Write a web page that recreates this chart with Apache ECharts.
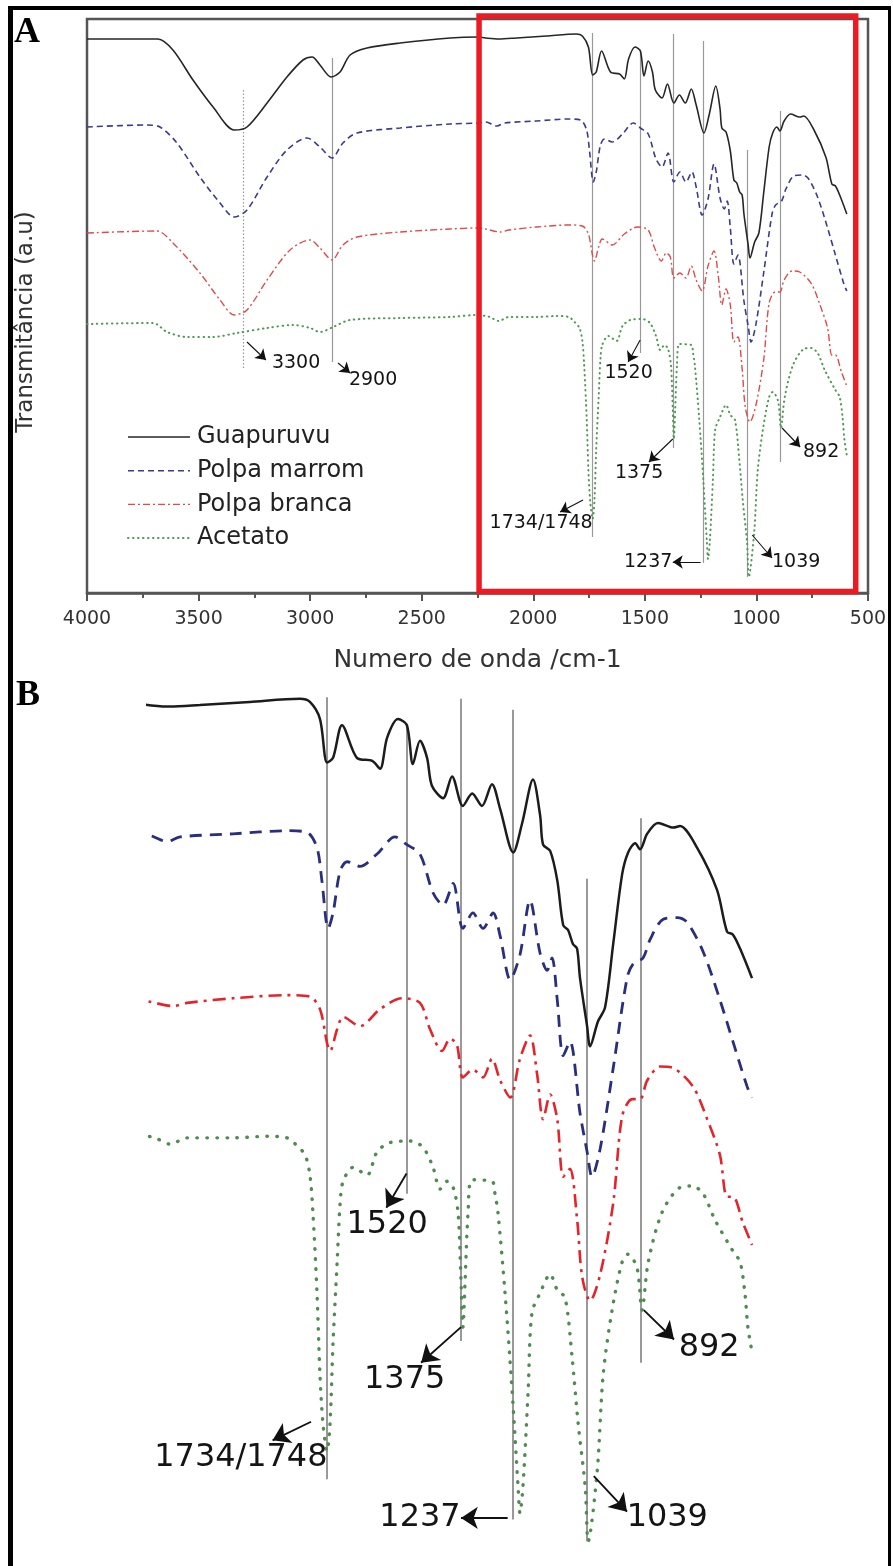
<!DOCTYPE html>
<html>
<head>
<meta charset="utf-8">
<title>FTIR - Guapuruvu, polpas e acetato</title>
<script src="https://cdn.jsdelivr.net/npm/echarts@6/dist/echarts.min.js"></script>
<style>
  html, body { margin: 0; padding: 0; background: #fff; }
  #chart { width: 893px; height: 1566px; }
</style>
</head>
<body>
<div id="chart"></div>
<script>
// ---------- data: [wavenumber (cm-1), transmittance (a.u., stacked offsets)] ----------
const seriesNames = ['Guapuruvu', 'Polpa marrom', 'Polpa branca', 'Acetato'];

const guapuruvu = [
  [4000,554],[3682,554],[3615,543],[3525,513],[3435,486],[3340,463],[3283,466],[3193,490],
  [3104,516],[3032,533],[2991,536],[2956,528],[2906,516],[2866,521],[2821,538],[2745,545],
  [2597,550],[2373,555],[2247,556],[2214,555],[2155,554],[2075,555],[1941,557],[1807,559],
  [1780,557],[1753,546],[1734,518],[1718,521],[1694,542],[1654,521],[1613,519],[1592,514],
  [1573,534],[1544,546],[1520,542],[1504,517],[1485,532],[1466,521],[1453,503],[1423,495],
  [1399,509],[1370,490],[1345,498],[1319,490],[1292,504],[1270,488],[1235,460],[1211,479],
  [1182,507],[1163,484],[1155,465],[1136,461],[1117,442],[1101,413],[1088,410],[1075,401],
  [1064,398],[1056,379],[1037,348],[1029,335],[1008,351],[989,360],[967,401],[943,446],
  [927,460],[908,466],[895,462],[876,472],[847,479],[806,476],[788,477],[742,463],
  [689,436],[662,409],[646,407],[627,398],[595,379]
];

const polpaMarrom = [
  [4000,466],[3731,468],[3673,466],[3597,450],[3494,416],[3404,390],[3340,376],[3283,383],
  [3193,416],[3104,443],[3014,455],[2956,446],[2902,435],[2853,450],[2790,460],[2597,465],
  [2373,469],[2247,470],[2214,471],[2163,467],[2128,470],[1986,472],[1841,474],[1788,473],
  [1761,463],[1748,442],[1731,411],[1718,421],[1699,448],[1680,454],[1646,451],[1600,459],
  [1552,470],[1520,465],[1485,459],[1450,434],[1423,426],[1396,440],[1370,411],[1343,421],
  [1316,411],[1289,421],[1270,406],[1243,378],[1217,394],[1190,429],[1163,395],[1144,384],
  [1131,392],[1117,365],[1101,329],[1083,338],[1056,292],[1037,267],[1024,251],[1002,269],
  [967,321],[930,379],[914,388],[887,392],[868,404],[833,417],[796,418],[769,415],
  [726,396],[681,365],[646,338],[608,309],[595,302]
];

const polpaBranca = [
  [4000,360],[3686,362],[3615,350],[3494,320],[3404,293],[3340,278],[3283,283],[3193,313],
  [3090,343],[3000,353],[2956,345],[2902,333],[2853,348],[2790,356],[2597,361],[2373,364],
  [2247,365],[2214,364],[2147,361],[2109,363],[1986,366],[1841,368],[1780,367],[1753,359],
  [1734,337],[1726,332],[1707,346],[1691,354],[1646,348],[1592,359],[1533,366],[1485,363],
  [1458,346],[1426,332],[1404,340],[1386,336],[1370,315],[1343,320],[1316,315],[1292,327],
  [1270,313],[1243,302],[1217,327],[1190,342],[1171,317],[1155,288],[1136,304],[1117,288],
  [1101,251],[1083,256],[1064,224],[1050,186],[1029,171],[1002,188],[967,234],[943,290],
  [916,301],[895,301],[876,313],[841,322],[806,321],[753,309],[715,288],[681,265],
  [662,238],[646,238],[619,221],[595,207]
];

const acetato = [
  [4000,269],[3704,270],[3641,261],[3552,256],[3435,256],[3328,260],[3193,265],[3077,268],
  [3000,265],[2956,261],[2897,266],[2821,273],[2597,275],[2373,276],[2252,278],[2214,277],
  [2195,276],[2155,272],[2109,276],[1986,276],[1895,277],[1841,276],[1815,271],[1793,265],
  [1780,252],[1772,228],[1761,176],[1753,123],[1745,92],[1734,74],[1726,92],[1718,144],
  [1707,196],[1699,234],[1691,248],[1664,257],[1627,252],[1600,267],[1565,273],[1512,274],
  [1477,270],[1450,257],[1431,243],[1412,248],[1396,244],[1383,228],[1375,184],[1370,154],
  [1364,184],[1356,228],[1345,249],[1292,248],[1284,240],[1276,228],[1257,176],[1238,113],
  [1222,51],[1217,34],[1209,51],[1195,113],[1185,163],[1163,176],[1136,188],[1117,178],
  [1096,173],[1077,134],[1061,92],[1042,51],[1034,16],[1010,61],[994,123],[970,165],
  [943,196],[927,201],[903,192],[890,165],[873,196],[836,228],[788,244],[756,245],
  [726,240],[694,223],[646,203],[627,196],[614,176],[606,154],[595,138]
];

// assigned bands: label, wavenumber, vertical extent of the guide line (a.u.)
const bandLabels    = ['3300', '2900', '1734/1748', '1520', '1375', '1237', '1039', '892'];
const bandPositions = [3300, 2900, 1734, 1520, 1375, 1237, 1039, 892];
const bandSpans     = [[225,503],[231,535],[56,560],[240,543],[145,559],[30,552],[16,443],[131,482]];

// wavenumber window of the enlarged panel
const detailWindow = [2214, 595];

// ---------- layout (data-space placement of the band annotations) ----------
const bandNotes = [
  { text: [3063, 230], from: [3283, 251], to: [3198, 233] },
  { text: [2718, 213], from: [2875, 230], to: [2821, 220] },
  { text: [1965, 70],  from: [1777, 93],  to: [1880, 81] },
  { text: [1573, 220], from: [1521, 253], to: [1575, 231] },
  { text: [1526, 120], from: [1375, 154], to: [1482, 131] },
  { text: [1485, 31],  from: [1250, 31],  to: [1375, 31] },
  { text: [822, 31],   from: [1019, 58],  to: [930, 35] },
  { text: [710, 141],  from: [885, 165],  to: [804, 146] }
];
const highlightBox = { w: [2243, 555], v: [577, 1.5] };

const FONT = 'DejaVu Sans';

const styleA = [
  { color: '#262626', width: 1.6, type: 'solid' },
  { color: '#383d8e', width: 1.6, type: [6, 4] },
  { color: '#e04a4a', width: 1.4, type: [7, 3, 2, 3] },
  { color: '#4f9a52', width: 2.0, type: [0.5, 4.5], cap: 'round' }
];
const styleB = [
  { color: '#1c1c1c', width: 2.5, type: 'solid' },
  { color: '#2a2e7e', width: 2.8, type: [12, 8] },
  { color: '#e3242b', width: 2.6, type: [13, 6, 3, 6] },
  { color: '#4e8c50', width: 3.4, type: [0.5, 9.5], cap: 'round' }
];

const spectra = [guapuruvu, polpaMarrom, polpaBranca, acetato];

function spectrumSeries(panel, styles) {
  return seriesNames.map((name, i) => ({
    type: 'line',
    name: name,
    xAxisIndex: panel,
    yAxisIndex: panel,
    data: spectra[i],
    symbol: 'none',
    showSymbol: false,
    smooth: 0.3,
    clip: true,
    silent: true,
    z: 3,
    lineStyle: { color: styles[i].color, width: styles[i].width, type: styles[i].type, cap: styles[i].cap || 'butt' }
  }));
}

function bandSeries(panel, scale, keep) {
  const idx = bandPositions.map((_, k) => k).filter(keep);
  return [
    {
      type: 'lines', coordinateSystem: 'cartesian2d', xAxisIndex: panel, yAxisIndex: panel,
      silent: true, z: 2, symbol: 'none',
      lineStyle: { color: '#999', width: 1.2 * scale, opacity: 1 },
      data: idx.map(k => ({
        coords: [[bandPositions[k], bandSpans[k][0]], [bandPositions[k], bandSpans[k][1]]],
        lineStyle: k === 0 ? { type: [1.5 * scale, 2 * scale] } : { type: 'solid' }
      }))
    },
    {
      type: 'lines', coordinateSystem: 'cartesian2d', xAxisIndex: panel, yAxisIndex: panel,
      silent: true, z: 4, symbol: ['none', 'arrow'], symbolSize: [7 * scale, 10 * scale],
      lineStyle: { color: '#111', width: 1.1 * scale, opacity: 1 },
      data: idx.map(k => ({ coords: [bandNotes[k].from, bandNotes[k].to] }))
    },
    {
      type: 'scatter', xAxisIndex: panel, yAxisIndex: panel, silent: true, z: 5,
      symbolSize: 0,
      itemStyle: { opacity: 1 },
      data: idx.map(k => ({ name: bandLabels[k], value: bandNotes[k].text })),
      label: {
        show: true, position: 'inside', formatter: '{b}', opacity: 1,
        fontFamily: FONT, fontSize: 19 * scale, color: '#141414'
      }
    }
  ];
}

const chart = echarts.init(document.getElementById('chart'));

chart.setOption({
  backgroundColor: '#fff',
  animation: false,
  grid: [
    { left: 87, top: 19, width: 781, height: 574, show: true, borderColor: '#555', borderWidth: 2.5, backgroundColor: 'transparent' },
    { left: 148, top: 675.6, width: 604, height: 918.4, show: false }
  ],
  xAxis: [
    {
      type: 'value', gridIndex: 0, min: 500, max: 4000, interval: 500, inverse: true,
      axisLine: { show: true, onZero: false, lineStyle: { color: '#555', width: 2.5 } },
      axisTick: { show: true, length: 8, lineStyle: { color: '#555', width: 2 } },
      minorTick: { show: true, splitNumber: 2, length: 5, lineStyle: { color: '#555', width: 2 } },
      axisLabel: { fontFamily: FONT, fontSize: 19, color: '#333', margin: 17, formatter: v => String(v) },
      splitLine: { show: false },
      name: 'Numero de onda /cm-1', nameLocation: 'middle', nameGap: 55,
      nameTextStyle: { fontFamily: FONT, fontSize: 25, color: '#333' }
    },
    {
      type: 'value', gridIndex: 1, min: detailWindow[1], max: detailWindow[0], inverse: true, show: false
    }
  ],
  yAxis: [
    {
      type: 'value', gridIndex: 0, min: 0, max: 574,
      axisLine: { show: false }, axisTick: { show: false }, axisLabel: { show: false }, splitLine: { show: false },
      name: 'Transmitância (a.u)', nameLocation: 'middle', nameGap: 49, nameRotate: 90,
      nameTextStyle: { fontFamily: FONT, fontSize: 23, color: '#333', padding: [0, 32, 0, 0] }
    },
    { type: 'value', gridIndex: 1, min: 0, max: 574, show: false }
  ],
  series: [].concat(
    bandSeries(0, 1, () => true),
    spectrumSeries(0, styleA),
    bandSeries(1, 1.68, k => bandPositions[k] < detailWindow[0]),
    spectrumSeries(1, styleB)
  )
});

// frame, panel letters, legend and the highlighted window of panel A
const tl = chart.convertToPixel({ gridIndex: 0 }, [highlightBox.w[0], highlightBox.v[0]]);
const br = chart.convertToPixel({ gridIndex: 0 }, [highlightBox.w[1], highlightBox.v[1]]);

const legendTop = 437, legendPitch = 33.7;
const legendGraphics = [];
seriesNames.forEach((name, i) => {
  const y = legendTop + i * legendPitch;
  const s = styleA[i];
  legendGraphics.push({
    type: 'line', silent: true, z: 10,
    shape: { x1: 128, y1: y, x2: 190, y2: y },
    style: { stroke: s.color, lineWidth: s.width, lineDash: Array.isArray(s.type) ? s.type : null, lineCap: s.cap || 'butt' }
  });
  legendGraphics.push({
    type: 'text', silent: true, z: 10,
    style: { text: name, x: 197, y: y, fill: '#222', fontFamily: FONT, fontSize: 24, align: 'left', verticalAlign: 'middle' }
  });
});

chart.setOption({
  graphic: [
    {
      type: 'rect', silent: true, z: 20,
      shape: { x: tl[0], y: tl[1], width: br[0] - tl[0], height: br[1] - tl[1] },
      style: { fill: 'none', stroke: '#ec1b23', lineWidth: 5.5 }
    },
    { type: 'line', silent: true, z: 30, shape: { x1: 10.5, y1: 6, x2: 10.5, y2: 1566 }, style: { stroke: '#000', lineWidth: 5 } },
    { type: 'line', silent: true, z: 30, shape: { x1: 8, y1: 8, x2: 891, y2: 8 }, style: { stroke: '#000', lineWidth: 4 } },
    { type: 'line', silent: true, z: 30, shape: { x1: 889.5, y1: 6, x2: 889.5, y2: 1566 }, style: { stroke: '#000', lineWidth: 3 } },
    {
      type: 'text', silent: true, z: 30,
      style: { text: 'A', x: 14, y: 33, fill: '#000', fontFamily: 'Liberation Serif', fontWeight: 'bold', fontSize: 36, align: 'left', verticalAlign: 'middle' }
    },
    {
      type: 'text', silent: true, z: 30,
      style: { text: 'B', x: 16, y: 696, fill: '#000', fontFamily: 'Liberation Serif', fontWeight: 'bold', fontSize: 36, align: 'left', verticalAlign: 'middle' }
    }
  ].concat(legendGraphics)
});
</script>
</body>
</html>
